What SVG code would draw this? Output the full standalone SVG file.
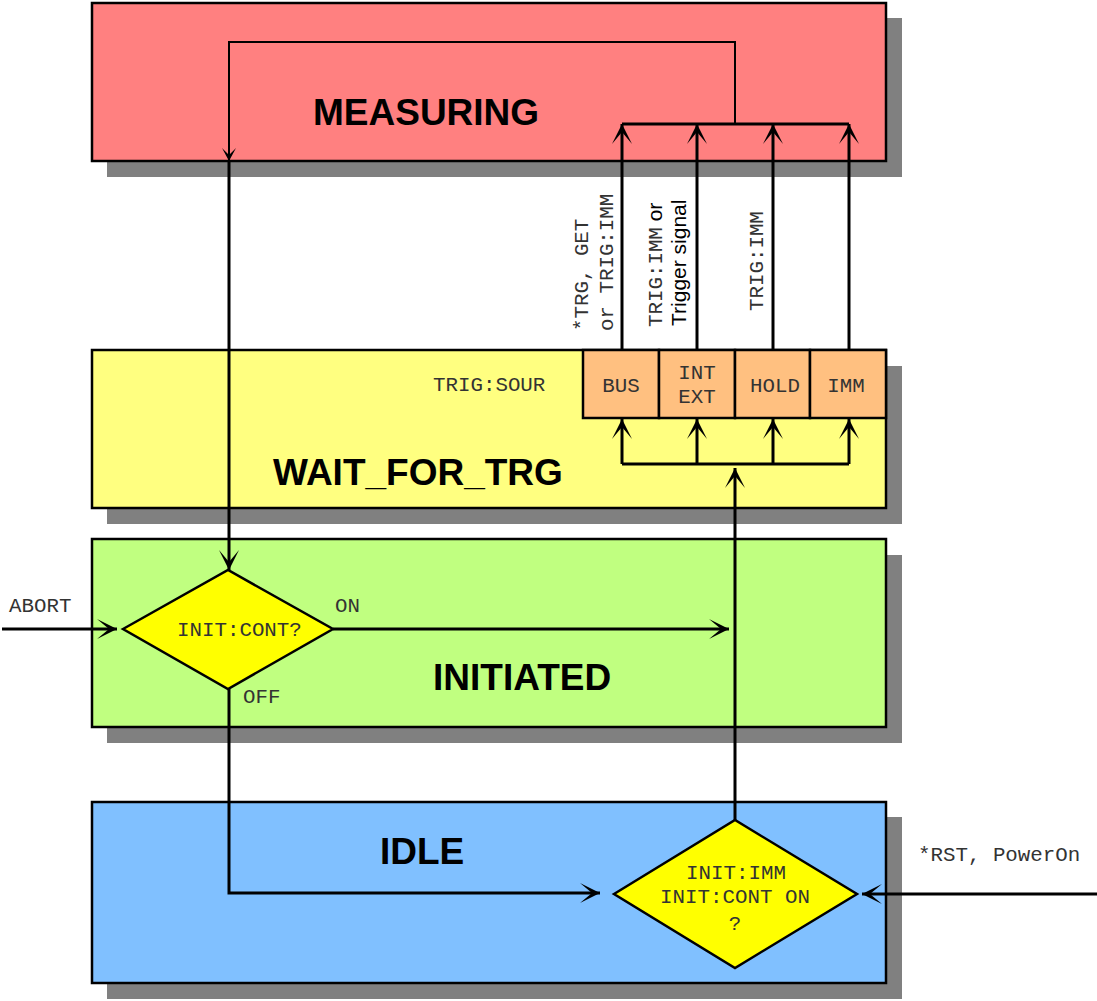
<svg xmlns="http://www.w3.org/2000/svg" width="1097" height="1001" viewBox="0 0 1097 1001">
<style>
.shadow{fill:#808080}
.box{stroke:#000;stroke-width:2.5}
.title{font-family:"Liberation Sans",Arial,sans-serif;font-weight:bold;font-size:37px;fill:#000}
.mono{font-family:"Liberation Mono","Courier New",monospace;font-size:20.8px;fill:#333}
.sans{font-family:"Liberation Sans",Arial,sans-serif;font-size:21px;fill:#000}
.dia{fill:#ffff00;stroke:#000;stroke-width:2.5}
.trig{fill:#ffc080;stroke:#000;stroke-width:2.5}
.c{fill:none;stroke:#000;stroke-width:3}
.thin{fill:none;stroke:#000;stroke-width:2}
</style>
<defs>
<marker id="ah" markerUnits="userSpaceOnUse" markerWidth="24" markerHeight="24" viewBox="-22 -12 24 24" refX="0" refY="0" orient="auto">
<path d="M0,0 L-20,-10 L-8,0 L-20,10 Z" fill="#000"/>
</marker>
<marker id="ahs" markerUnits="userSpaceOnUse" markerWidth="16" markerHeight="16" viewBox="-15 -8 16 16" refX="0" refY="0" orient="auto">
<path d="M0,0 L-13,-7 L-6,0 L-13,7 Z" fill="#000"/>
</marker>
</defs>

<g id="measuring">
<rect class="shadow" x="107" y="18" width="795" height="159"/>
<rect class="box" x="92" y="3" width="794" height="158" fill="#ff8080"/>
<text class="title" x="313" y="125">MEASURING</text>
</g>

<g id="wait_for_trg">
<rect class="shadow" x="107" y="366" width="795" height="158"/>
<rect class="box" x="92" y="350" width="794" height="158" fill="#ffff80"/>
<text class="title" x="273" y="485">WAIT_FOR_TRG</text>
<text class="mono" x="433" y="391">TRIG:SOUR</text>
</g>

<g id="trig_bus">
<rect class="trig" x="583" y="350" width="76" height="68"/>
<text class="mono" x="621" y="392" text-anchor="middle">BUS</text>
</g>
<g id="trig_int_ext">
<rect class="trig" x="659" y="350" width="76" height="68"/>
<text class="mono" x="697" y="379" text-anchor="middle">INT</text>
<text class="mono" x="697" y="403" text-anchor="middle">EXT</text>
</g>
<g id="trig_hold">
<rect class="trig" x="735" y="350" width="75" height="68"/>
<text class="mono" x="775" y="392" text-anchor="middle">HOLD</text>
</g>
<g id="trig_imm">
<rect class="trig" x="810" y="350" width="76" height="68"/>
<text class="mono" x="846" y="392" text-anchor="middle">IMM</text>
</g>

<g id="initiated">
<rect class="shadow" x="107" y="555" width="795" height="188"/>
<rect class="box" x="92" y="539" width="794" height="188" fill="#c0ff80"/>
<text class="title" x="433" y="690">INITIATED</text>
</g>

<g id="init_cont_decision">
<polygon class="dia" points="123,629 228,570 333,629 228,689"/>
<text class="mono" x="177" y="636">INIT:CONT?</text>
</g>

<g id="idle">
<rect class="shadow" x="107" y="817" width="795" height="182"/>
<rect class="box" x="92" y="802" width="794" height="181" fill="#80c0ff"/>
<text class="title" x="380" y="864">IDLE</text>
</g>

<g id="init_imm_decision">
<polygon class="dia" points="614,894 735,820 857,894 735,968"/>
<text class="mono" x="736" y="879" text-anchor="middle">INIT:IMM</text>
<text class="mono" x="735" y="903" text-anchor="middle">INIT:CONT ON</text>
<text class="mono" x="735" y="930" text-anchor="middle">?</text>
</g>

<g id="connectors">
<!-- trigger source to measuring -->
<path class="c" d="M622,350 V124" marker-end="url(#ah)"/>
<path class="c" d="M697,350 V124" marker-end="url(#ah)"/>
<path class="c" d="M773,350 V124" marker-end="url(#ah)"/>
<path class="c" d="M849,350 V124" marker-end="url(#ah)"/>
<path class="c" d="M622,124 H849"/>
<!-- measuring loop back -->
<path class="thin" d="M735,124 V42 H229 V161" marker-end="url(#ahs)"/>
<path class="c" d="M229,161 V570" marker-end="url(#ah)"/>
<!-- wait_for_trg distribution -->
<path class="c" d="M622,464 V419" marker-end="url(#ah)"/>
<path class="c" d="M697,464 V419" marker-end="url(#ah)"/>
<path class="c" d="M773,464 V419" marker-end="url(#ah)"/>
<path class="c" d="M849,464 V419" marker-end="url(#ah)"/>
<path class="c" d="M622,464 H849"/>
<path class="c" d="M735,820 V468" marker-end="url(#ah)"/>
<!-- ON -->
<path class="c" d="M333,629 H729" marker-end="url(#ah)"/>
<!-- OFF -->
<path class="c" d="M229,689 V893 H600" marker-end="url(#ah)"/>
<!-- ABORT -->
<path class="c" d="M2,629 H117" marker-end="url(#ah)"/>
<!-- RST -->
<path class="c" d="M1097,894 H862" marker-end="url(#ah)"/>

<text class="mono" x="9" y="612">ABORT</text>
<text class="mono" x="335" y="612">ON</text>
<text class="mono" x="243" y="703">OFF</text>
<text class="mono" x="918" y="861">*RST, PowerOn</text>

<text class="mono" transform="translate(588,331) rotate(-90)">*TRG, GET</text>
<text class="mono" transform="translate(613,331) rotate(-90)">or TRIG:IMM</text>
<text class="mono" transform="translate(662,327) rotate(-90)">TRIG:IMM<tspan class="sans" style="fill:#000"> or</tspan></text>
<text class="sans" transform="translate(686,326) rotate(-90)">Trigger signal</text>
<text class="mono" transform="translate(763,311) rotate(-90)">TRIG:IMM</text>
</g>
</svg>
